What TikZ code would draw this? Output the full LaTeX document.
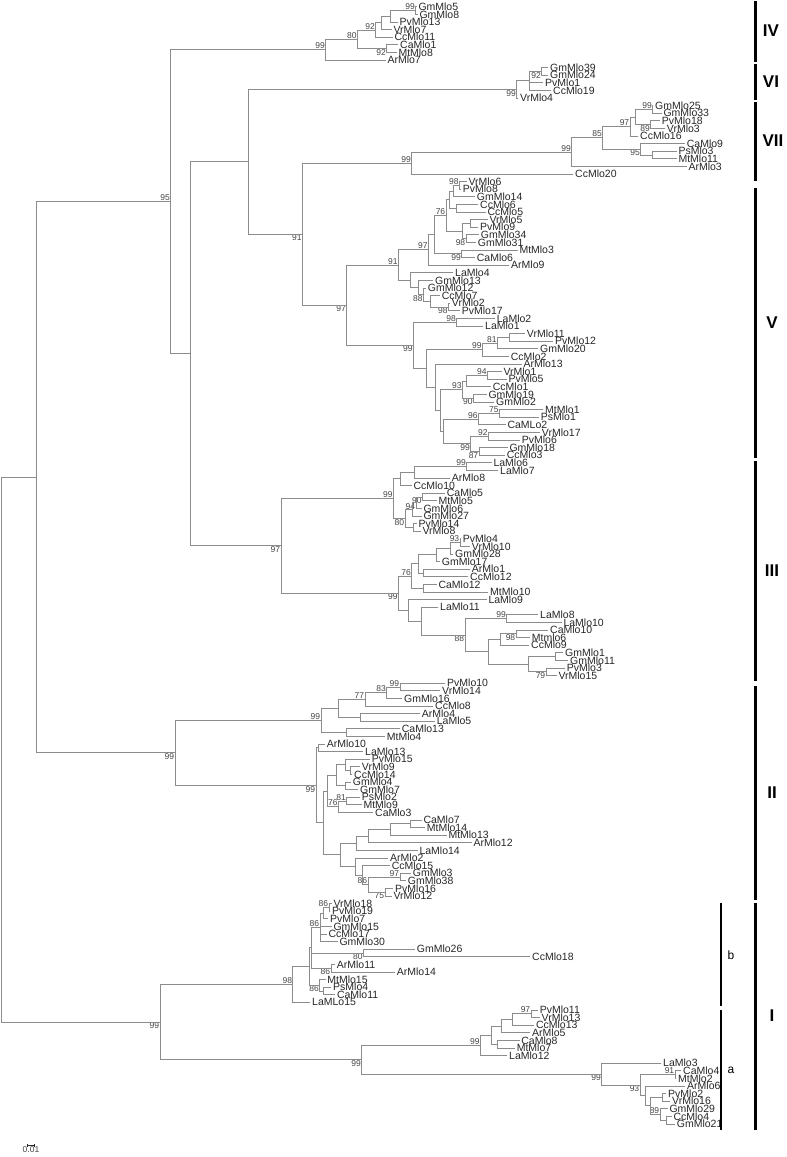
\documentclass[tikz,border=0pt]{standalone}
\usepackage{fontspec}
\setmainfont{Liberation Sans}
\newdimen\tya \newdimen\tyb \newdimen\tyc
\definecolor{lg}{RGB}{140,140,140}
\definecolor{tc}{RGB}{40,40,40}
\definecolor{bc}{RGB}{70,70,70}
\tikzset{
 br/.style={draw=lg,line width=0.8pt,line cap=rect},
 lab/.style={anchor=west,inner sep=0pt,text=tc,font=\fontsize{10.5}{11}\selectfont},
 bsl/.style={inner sep=0.6pt,text=bc,font=\fontsize{8.5}{9}\selectfont},
 cbar/.style={draw=black,line width=3pt},
 clab/.style={font=\fontsize{17}{17}\selectfont\bfseries,text=black},
 sublab/.style={font=\fontsize{12}{12}\selectfont,text=black},
}
\newcommand\leafnode[3]{\pgfmathsetmacro\yy{-(6.7+7.6*#2)}\coordinate (#1) at ({#3-2},\yy);\node[lab] (#1t) at (#3,\yy) {#1};}
\newcommand\inode[3]{%
 \foreach \cc [count=\kk] in {#3}{\ifnum\kk=1 \xdef\ndfirst{\cc}\fi\xdef\ndlast{\cc}}%
 \pgfextracty{\tya}{\pgfpointanchor{\ndfirst}{center}}%
 \pgfextracty{\tyb}{\pgfpointanchor{\ndlast}{center}}%
 \pgfmathsetlengthmacro\ymid{(\tya+\tyb)/2}%
 \coordinate (#1) at (#2pt,\ymid);%
 \draw[br] (#2pt,\the\tya) -- (#2pt,\the\tyb);%
 \foreach \cc in {#3}{\pgfextracty{\tyc}{\pgfpointanchor{\cc}{center}}\draw[br] (#2pt,\the\tyc) -- (\cc);}%
}
\newcommand\bsv[3][south east]{\node[bsl,anchor=#1] (b-#2) at (#2) {#3};}
\begin{document}
\begin{tikzpicture}[x=1pt,y=1pt]
\fill[white] (0,0) rectangle (787,-1157);
\useasboundingbox (0,0) rectangle (787,-1157);
% ---- leaves: IV
\leafnode{GmMlo5}{0}{418.3}
\leafnode{GmMlo8}{1}{419.3}
\leafnode{PvMlo13}{2}{399.3}
\leafnode{VrMlo7}{3}{393.3}
\leafnode{CcMlo11}{4}{394.3}
\leafnode{CaMlo1}{5}{400}
\leafnode{MtMlo8}{6}{398.3}
\leafnode{ArMlo7}{7}{387.3}
% VI
\leafnode{GmMlo39}{8}{550}
\leafnode{GmMlo24}{9}{550}
\leafnode{PvMlo1}{10}{545}
\leafnode{CcMlo19}{11}{553}
\leafnode{VrMlo4}{12}{520}
% VII
\leafnode{GmMlo25}{13}{655}
\leafnode{GmMlo33}{14}{663.3}
\leafnode{PvMlo18}{15}{661.7}
\leafnode{VrMlo3}{16}{666.7}
\leafnode{CcMlo16}{17}{640}
\leafnode{CaMlo9}{18}{686.7}
\leafnode{PsMlo3}{19}{678.3}
\leafnode{MtMlo11}{20}{678.3}
\leafnode{ArMlo3}{21}{688.3}
\leafnode{CcMlo20}{22}{575}
% V
\leafnode{VrMlo6}{23}{468.3}
\leafnode{PvMlo8}{24}{462.7}
\leafnode{GmMlo14}{25}{476.7}
\leafnode{CcMlo6}{26}{480}
\leafnode{CcMlo5}{27}{487.3}
\leafnode{VrMlo5}{28}{489.3}
\leafnode{PvMlo9}{29}{480}
\leafnode{GmMlo34}{30}{480.7}
\leafnode{GmMlo31}{31}{477.7}
\leafnode{MtMlo3}{32}{519.3}
\leafnode{CaMlo6}{33}{476.7}
\leafnode{ArMlo9}{34}{511}
\leafnode{LaMlo4}{35}{455}
\leafnode{GmMlo13}{36}{435}
\leafnode{GmMlo12}{37}{427.7}
\leafnode{CcMlo7}{38}{441.7}
\leafnode{VrMlo2}{39}{451.7}
\leafnode{PvMlo17}{40}{461.7}
\leafnode{LaMlo2}{41}{496.7}
\leafnode{LaMlo1}{42}{485}
\leafnode{VrMlo11}{43}{526.7}
\leafnode{PvMlo12}{44}{555}
\leafnode{GmMlo20}{45}{540}
\leafnode{CcMlo2}{46}{510.7}
\leafnode{ArMlo13}{47}{523.3}
\leafnode{VrMlo1}{48}{503.3}
\leafnode{PvMlo5}{49}{508.3}
\leafnode{CcMlo1}{50}{492.7}
\leafnode{GmMlo19}{51}{488.3}
\leafnode{GmMlo2}{52}{496}
\leafnode{MtMlo1}{53}{545}
\leafnode{PsMlo1}{54}{540.7}
\leafnode{CaMLo2}{55}{507.3}
\leafnode{VrMlo17}{56}{541.7}
\leafnode{PvMlo6}{57}{521.7}
\leafnode{GmMlo18}{58}{509.3}
\leafnode{CcMlo3}{59}{506.7}
% III
\leafnode{LaMlo6}{60}{493.3}
\leafnode{LaMlo7}{61}{500}
\leafnode{ArMlo8}{62}{451.7}
\leafnode{CcMlo10}{63}{413.3}
\leafnode{CaMlo5}{64}{446.7}
\leafnode{MtMlo5}{65}{438.3}
\leafnode{GmMlo6}{66}{423.3}
\leafnode{GmMlo27}{67}{423.3}
\leafnode{PvMlo14}{68}{418.3}
\leafnode{VrMlo8}{69}{422.3}
\leafnode{PvMlo4}{70}{462.7}
\leafnode{VrMlo10}{71}{471.7}
\leafnode{GmMlo28}{72}{455}
\leafnode{GmMlo17}{73}{441.7}
\leafnode{ArMlo1}{74}{471.7}
\leafnode{CcMlo12}{75}{470}
\leafnode{CaMlo12}{76}{438.3}
\leafnode{MtMlo10}{77}{490}
\leafnode{LaMlo9}{78}{488.3}
\leafnode{LaMlo11}{79}{440}
\leafnode{LaMlo8}{80}{540}
\leafnode{LaMlo10}{81}{563.3}
\leafnode{CaMlo10}{82}{550}
\leafnode{Mtmlo6}{83}{531.7}
\leafnode{CcMlo9}{84}{531}
\leafnode{GmMlo1}{85}{565}
\leafnode{GmMlo11}{86}{570}
\leafnode{PvMlo3}{87}{566.7}
\leafnode{VrMlo15}{88}{558.3}
% II
\leafnode{PvMlo10}{89}{447}
\leafnode{VrMlo14}{90}{442}
\leafnode{GmMlo16}{91}{404}
\leafnode{CcMlo8}{92}{435}
\leafnode{ArMlo4}{93}{421.7}
\leafnode{LaMlo5}{94}{436.7}
\leafnode{CaMlo13}{95}{401.7}
\leafnode{MtMlo4}{96}{386.7}
\leafnode{ArMlo10}{97}{326.7}
\leafnode{LaMlo13}{98}{365}
\leafnode{PvMlo15}{99}{371.7}
\leafnode{VrMlo9}{100}{361.7}
\leafnode{CcMlo14}{101}{354}
\leafnode{GmMlo4}{102}{352.7}
\leafnode{GmMlo7}{103}{360}
\leafnode{PsMlo2}{104}{361.7}
\leafnode{MtMlo9}{105}{363.3}
\leafnode{CaMlo3}{106}{375}
\leafnode{CaMlo7}{107}{423.3}
\leafnode{MtMlo14}{108}{426.7}
\leafnode{MtMlo13}{109}{448.3}
\leafnode{ArMlo12}{110}{473.3}
\leafnode{LaMlo14}{111}{419.3}
\leafnode{ArMlo2}{112}{390}
\leafnode{CcMlo15}{113}{391.7}
\leafnode{GmMlo3}{114}{412.7}
\leafnode{GmMlo38}{115}{407.7}
\leafnode{PvMlo16}{116}{395}
\leafnode{VrMlo12}{117}{393.3}
% I-b
\leafnode{VrMlo18}{118}{333.3}
\leafnode{PvMlo19}{119}{332}
\leafnode{PvMlo7}{120}{330}
\leafnode{GmMlo15}{121}{333.3}
\leafnode{CcMlo17}{122}{328.3}
\leafnode{GmMlo30}{123}{339.3}
\leafnode{GmMlo26}{124}{416.7}
\leafnode{CcMlo18}{125}{532}
\leafnode{ArMlo11}{126}{336.7}
\leafnode{ArMlo14}{127}{396.7}
\leafnode{MtMlo15}{128}{327.2}
\leafnode{PsMlo4}{129}{333}
\leafnode{CaMlo11}{130}{336.8}
\leafnode{LaMLo15}{131}{312}
% I-a
\leafnode{PvMlo11}{132}{539.6}
\leafnode{VrMlo13}{133}{541.5}
\leafnode{CcMlo13}{134}{535.8}
\leafnode{ArMlo5}{135}{532}
\leafnode{CaMlo8}{136}{521.2}
\leafnode{MtMlo7}{137}{516.6}
\leafnode{LaMlo12}{138}{509}
\leafnode{LaMlo3}{139}{663}
\leafnode{CaMlo4}{140}{683}
\leafnode{MtMlo2}{141}{678}
\leafnode{ArMlo6}{142}{687}
\leafnode{PvMlo2}{143}{668}
\leafnode{VrMlo16}{144}{672}
\leafnode{GmMlo29}{145}{669.3}
\leafnode{CcMlo4}{146}{673.3}
\leafnode{GmMlo21}{147}{676.7}
% ---- internal nodes: IV
\inode{iv1}{415.7}{GmMlo5,GmMlo8}\bsv{iv1}{99}
\inode{iv2}{390.7}{iv1,PvMlo13}
\inode{iv3}{381.7}{iv2,VrMlo7}
\inode{iv4}{375.7}{iv3,CcMlo11}\bsv{iv4}{92}
\inode{iv5}{386.7}{CaMlo1,MtMlo8}\bsv[north east]{iv5}{92}
\inode{iv6}{357.3}{iv4,iv5}\bsv{iv6}{80}
\inode{IV}{325.7}{iv6,ArMlo7}\bsv{IV}{99}
% VI
\inode{vi1}{541.7}{GmMlo39,GmMlo24}\bsv[north east]{vi1}{92}
\inode{vi2}{529.5}{vi1,PvMlo1,CcMlo19}
\inode{VI}{516.7}{vi2,VrMlo4}\bsv[north east]{VI}{99}
% VII
\inode{vii1}{652.7}{GmMlo25,GmMlo33}\bsv{vii1}{99}
\inode{vii2}{650.7}{PvMlo18,VrMlo3}\bsv[north east]{vii2}{89}
\inode{vii3}{635}{vii1,vii2}
\inode{vii4}{630}{vii3,CcMlo16}\bsv{vii4}{97}
\inode{vii5}{652.7}{PsMlo3,MtMlo11}
\inode{vii6}{640.7}{CaMlo9,vii5}\bsv[north east]{vii6}{95}
\inode{vii7}{602.7}{vii4,vii6}\bsv{vii7}{85}
\inode{vii8}{571.7}{vii7,ArMlo3}\bsv{vii8}{99}
\inode{VII}{411.7}{vii8,CcMlo20}\bsv{VII}{99}
% V
\inode{v1}{459.3}{VrMlo6,PvMlo8}\bsv{v1}{98}
\inode{v2}{453.3}{v1,GmMlo14}
\inode{v3}{456.7}{CcMlo6,CcMlo5}
\inode{v4}{449}{v2,v3}
\inode{v5}{470}{VrMlo5,PvMlo9}
\inode{v6}{466}{GmMlo34,GmMlo31}\bsv[north east]{v6}{98}
\inode{v7}{462}{v5,v6}
\inode{v8}{446}{v4,v7}\bsv{v8}{76}
\inode{v9}{461.7}{MtMlo3,CaMlo6}\bsv[north east]{v9}{99}
\inode{v10}{434.3}{v8,v9}
\inode{v11}{428.3}{v10,ArMlo9}\bsv{v11}{97}
\inode{v12}{448.3}{VrMlo2,PvMlo17}\bsv[north east]{v12}{98}
\inode{v13}{430}{CcMlo7,v12}
\inode{v14}{423.3}{GmMlo12,v13}\bsv[north east]{v14}{88}
\inode{v15}{418}{GmMlo13,v14}
\inode{v16}{410}{LaMlo4,v15}
\inode{v17}{398.3}{v11,v16}\bsv{v17}{91}
\inode{v18}{456.7}{LaMlo2,LaMlo1}\bsv{v18}{98}
\inode{v19}{509.3}{VrMlo11,PvMlo12}
\inode{v20}{497.3}{v19,GmMlo20}\bsv{v20}{81}
\inode{v21}{482.3}{v20,CcMlo2}\bsv{v21}{99}
\inode{v22}{487.3}{VrMlo1,PvMlo5}\bsv{v22}{94}
\inode{v23}{466.7}{v22,CcMlo1}
\inode{v24}{473.3}{GmMlo19,GmMlo2}\bsv[north east]{v24}{90}
\inode{v25}{462.3}{v23,v24}\bsv{v25}{93}
\inode{v26}{499.3}{MtMlo1,PsMlo1}\bsv{v26}{75}
\inode{v27}{478.3}{v26,CaMLo2}\bsv{v27}{96}
\inode{v28}{488.3}{VrMlo17,PvMlo6}\bsv{v28}{92}
\inode{v29}{479}{GmMlo18,CcMlo3}\bsv[north east]{v29}{87}
\inode{v30}{470.7}{v28,v29}\bsv[north east]{v30}{99}
\inode{v31}{443.3}{v27,v30}
\inode{v32}{440}{v25,v31}
\inode{v33}{435}{ArMlo13,v32}
\inode{v34}{426.7}{v21,v33}
\inode{v35}{413.3}{v18,v34}\bsv[north east]{v35}{99}
\inode{V}{346.7}{v17,v35}\bsv[north east]{V}{97}
\inode{viiv}{302.3}{VII,V}\bsv[north east]{viiv}{91}
\inode{vi7}{248.3}{VI,viiv}
% III
\inode{w1}{466.7}{LaMlo6,LaMlo7}\bsv{w1}{99}
\inode{w2}{414.3}{w1,ArMlo8}
\inode{w3}{422.3}{CaMlo5,MtMlo5}\bsv[north east]{w3}{90}
\inode{w4}{416}{w3,GmMlo6}\bsv[north east]{w4}{94}
\inode{w5}{412}{w4,GmMlo27}
\inode{w6}{413}{PvMlo14,VrMlo8}
\inode{w7}{405}{w5,w6}\bsv[north east]{w7}{80}
\inode{w8}{400}{w2,CcMlo10}
\inode{IIIu}{393.3}{w8,w7}\bsv{IIIu}{99}
\inode{y1}{460}{PvMlo4,VrMlo10}\bsv{y1}{93}
\inode{y2}{450}{y1,GmMlo28}
\inode{y3}{436}{y2,GmMlo17}
\inode{y4}{423.3}{ArMlo1,CcMlo12}
\inode{y5}{418.3}{y3,y4}
\inode{y6}{423.3}{CaMlo12,MtMlo10}
\inode{y7}{411.7}{y5,y6}\bsv{y7}{76}
\inode{y8}{506.7}{LaMlo8,LaMlo10}\bsv{y8}{99}
\inode{y9}{516}{CaMlo10,Mtmlo6}\bsv[north east]{y9}{98}
\inode{y10}{500}{y9,CcMlo9}
\inode{y11}{555}{GmMlo1,GmMlo11}
\inode{y12}{546}{PvMlo3,VrMlo15}\bsv[north east]{y12}{79}
\inode{y13}{528.3}{y11,y12}
\inode{y14}{488.3}{y10,y13}
\inode{y15}{465}{y8,y14}\bsv[north east]{y15}{88}
\inode{y16}{421.7}{LaMlo11,y15}
\inode{y17}{408.3}{LaMlo9,y16}
\inode{IIIl}{398.3}{y7,y17}\bsv[north east]{IIIl}{99}
\inode{III}{281}{IIIu,IIIl}\bsv[north east]{III}{97}
\inode{X}{190}{vi7,III}
\inode{n95}{170.7}{IV,X}\bsv{n95}{95}
% II
\inode{ii1}{400}{PvMlo10,VrMlo14}\bsv{ii1}{99}
\inode{ii2}{386.7}{ii1,GmMlo16}\bsv{ii2}{83}
\inode{ii3}{365}{ii2,CcMlo8}\bsv{ii3}{77}
\inode{ii4}{360}{ArMlo4,LaMlo5}
\inode{ii5}{338.3}{ii3,ii4}
\inode{ii6}{346.7}{CaMlo13,MtMlo4}
\inode{IIu}{321}{ii5,ii6}\bsv{IIu}{99}
\inode{ii7}{318.3}{ArMlo10,LaMlo13}
\inode{ii8}{350}{VrMlo9,CcMlo14}
\inode{ii9}{345}{PvMlo15,ii8}
\inode{ii10}{345}{GmMlo4,GmMlo7}
\inode{ii11}{336}{ii9,ii10}
\inode{ii12}{346.7}{PsMlo2,MtMlo9}\bsv{ii12}{81}
\inode{ii13}{338.3}{ii12,CaMlo3}\bsv{ii13}{76}
\inode{ii14}{327}{ii11,ii13}
\inode{ii15}{410}{CaMlo7,MtMlo14}
\inode{ii16}{390}{ii15,MtMlo13}
\inode{ii17}{368.3}{ii16,ArMlo12}
\inode{ii18}{356.7}{ii17,LaMlo14}
\inode{ii19}{400}{GmMlo3,GmMlo38}\bsv{ii19}{97}
\inode{ii20}{385}{PvMlo16,VrMlo12}\bsv[north east]{ii20}{75}
\inode{ii21}{368}{ii19,ii20}\bsv{ii21}{86}
\inode{ii22}{362}{CcMlo15,ii21}
\inode{ii23}{355}{ArMlo2,ii22}
\inode{ii24}{340}{ii18,ii23}
\inode{ii25}{323.3}{ii14,ii24}
\inode{IIl}{316}{ii7,ii25}\bsv[north east]{IIl}{99}
\inode{II}{175}{IIu,IIl}\bsv[north east]{II}{99}
% I-b
\inode{ib1}{329}{VrMlo18,PvMlo19}\bsv{ib1}{86}
\inode{ib2}{323.3}{ib1,PvMlo7}
\inode{ib3}{320}{ib2,GmMlo15,CcMlo17,GmMlo30}\bsv{ib3}{86}
\inode{ib4}{363.3}{GmMlo26,CcMlo18}\bsv[north east]{ib4}{80}
\inode{ib5}{331}{ArMlo11,ArMlo14}\bsv[north east]{ib5}{86}
\inode{ib6}{311.7}{ib3,ib4,ib5}
\inode{ib7}{323.4}{PsMlo4,CaMlo11}
\inode{ib8}{319.6}{MtMlo15,ib7}\bsv[north east]{ib8}{86}
\inode{ib9}{309.2}{ib6,ib8}
\inode{Ib}{292.8}{ib9,LaMLo15}\bsv{Ib}{98}
% I-a
\inode{ia1}{531}{PvMlo11,VrMlo13}\bsv{ia1}{97}
\inode{ia2}{512}{ia1,CcMlo13}
\inode{ia3}{501}{ia2,ArMlo5}
\inode{ia4}{497}{CaMlo8,MtMlo7}
\inode{ia5}{491}{ia3,ia4}
\inode{Iau}{480.3}{ia5,LaMlo12}\bsv{Iau}{99}
\inode{ia6}{675}{CaMlo4,MtMlo2}\bsv{ia6}{91}
\inode{ia7}{666.7}{CcMlo4,GmMlo21}
\inode{ia8}{660}{GmMlo29,ia7}\bsv{ia8}{89}
\inode{ia9}{662}{PvMlo2,VrMlo16}
\inode{ia10}{650}{ia9,ia8}
\inode{ia11}{645}{ArMlo6,ia10}
\inode{ia12}{640}{ia6,ia11}\bsv[north east]{ia12}{93}
\inode{Ial}{601.7}{LaMlo3,ia12}\bsv[north east]{Ial}{99}
\inode{Ia}{361.6}{Iau,Ial}\bsv[north east]{Ia}{99}
\inode{I}{160}{Ib,Ia}\bsv[north east]{I}{99}
% top
\inode{A}{36}{n95,II}
\inode{root}{1}{A,I}
% ---- clade bars
\draw[cbar] (755,-1) -- (755,-62);   \node[clab] (cIV) at (771,-31) {IV};
\draw[cbar] (755,-64) -- (755,-100); \node[clab] (cVI) at (771,-82) {VI};
\draw[cbar] (755,-102) -- (755,-181); \node[clab] (cVII) at (773,-141) {VII};
\draw[cbar] (755,-188) -- (755,-458); \node[clab] (cV) at (772,-323) {V};
\draw[cbar] (755,-461) -- (755,-681); \node[clab] (cIII) at (772,-571) {III};
\draw[cbar] (755,-686) -- (755,-900); \node[clab] (cII) at (772,-793) {II};
\draw[cbar] (755,-903) -- (755,-1130); \node[clab] (cI) at (772,-1016) {I};
\draw[draw=black,line width=2.5pt] (721,-903) -- (721,-1006); \node[sublab] (cb) at (731,-955) {b};
\draw[draw=black,line width=2.5pt] (721,-1010) -- (721,-1130); \node[sublab] (ca) at (731,-1070) {a};
% ---- scale bar
\coordinate (sb1) at (27.7,-1145);
\coordinate (sb2) at (34.3,-1145);
\draw[draw=tc,line width=0.6pt] (sb1) -- (sb2);
\draw[draw=tc,line width=0.6pt] ([yshift=1.5pt]sb1) -- ([yshift=-1.5pt]sb1);
\draw[draw=tc,line width=0.6pt] ([yshift=1.5pt]sb2) -- ([yshift=-1.5pt]sb2);
\node[bsl,anchor=north] (sbl) at (31,-1146) {0.01};
\end{tikzpicture}
\end{document}
